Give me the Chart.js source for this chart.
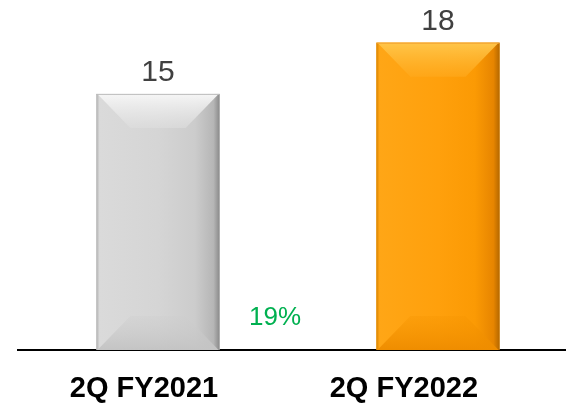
<!DOCTYPE html>
<html>
<head>
<meta charset="utf-8">
<script src="https://cdn.jsdelivr.net/npm/chart.js@4.4.1/dist/chart.umd.min.js"></script>
<style>
  html, body { margin: 0; padding: 0; background: #ffffff; overflow: hidden; }
  #wrap { width: 566px; height: 403px; overflow: hidden; }
</style>
</head>
<body>
<div id="wrap"><canvas id="myChart" width="580" height="403"></canvas></div>
<script>
'use strict';

// ******* DATA *******
let categories = ['2Q FY2021', '2Q FY2022'];
let salesValues = [15, 18];
let growthLabel = '19%';

// ******* STYLES *******
let barColors = ['#d3d3d3', '#ffa010'];
let bevelShades = [
  {
    side: [[0, '#b0b0b0'], [0.025, '#dadada'], [0.5, '#d5d5d5'], [0.8, '#cccccc'], [0.95, '#b6b6b6'], [1, '#8a8a8a']],
    topA: '#f6f6f6', topB: 'rgba(222,222,222,0.6)',
    botA: 'rgba(205,205,205,0.3)', botB: '#c4c4c4',
    edge: '#bdbdbd'
  },
  {
    side: [[0, '#d88400'], [0.025, '#ffa616'], [0.5, '#ffa00c'], [0.8, '#fb9a04'], [0.95, '#e78500'], [1, '#b46800']],
    topA: '#ffc64a', topB: 'rgba(255,170,30,0.6)',
    botA: 'rgba(245,148,0,0.3)', botB: '#ef8d00',
    edge: '#f0a030'
  }
];

let canvasElem = document.getElementById('myChart').getContext('2d');

// ******* BEVEL PLUGIN *******
function poly(ctx, pts, fill) {
  ctx.beginPath();
  ctx.moveTo(pts[0][0], pts[0][1]);
  for (let i = 1; i < pts.length; i++) {
    ctx.lineTo(pts[i][0], pts[i][1]);
  }
  ctx.closePath();
  ctx.fillStyle = fill;
  ctx.fill();
}

let bevelPlugin = {
  id: 'bevel',
  afterDatasetsDraw(chart) {
    let ctx = chart.ctx;
    let meta = chart.getDatasetMeta(0);
    meta.data.forEach(function (bar, i) {
      let s = bevelShades[i];
      let l = bar.x - bar.width / 2;
      let r = bar.x + bar.width / 2;
      let t = bar.y;
      let b = bar.base;
      let d = 34;
      ctx.save();

      // body: soft horizontal shading
      let gSide = ctx.createLinearGradient(l, 0, r, 0);
      s.side.forEach(function (stop) { gSide.addColorStop(stop[0], stop[1]); });
      ctx.fillStyle = gSide;
      ctx.fillRect(l, t, r - l, b - t);

      // top bevel
      let gTop = ctx.createLinearGradient(0, t, 0, t + d);
      gTop.addColorStop(0, s.topA);
      gTop.addColorStop(1, s.topB);
      poly(ctx, [[l + 1, t], [r - 1, t], [r - d, t + d], [l + d, t + d]], gTop);

      // bottom bevel
      let gBot = ctx.createLinearGradient(0, b - d, 0, b);
      gBot.addColorStop(0, s.botA);
      gBot.addColorStop(1, s.botB);
      poly(ctx, [[l + 1, b], [r - 1, b], [r - d, b - d], [l + d, b - d]], gBot);

      // top edge line
      ctx.fillStyle = s.edge;
      ctx.fillRect(l, t, r - l, 1);

      // value label
      ctx.fillStyle = '#404040';
      ctx.font = '30px "Liberation Sans", Arial, sans-serif';
      ctx.textAlign = 'center';
      ctx.textBaseline = 'alphabetic';
      ctx.fillText(String(salesValues[i]), bar.x, t - 13);
      ctx.restore();
    });

    // growth label between bars
    if (meta.data.length > 1) {
      let midX = (meta.data[0].x + meta.data[1].x) / 2 - 23;
      let baseY = meta.data[0].base;
      ctx.save();
      ctx.fillStyle = '#00b050';
      ctx.font = '26px "Liberation Sans", Arial, sans-serif';
      ctx.textAlign = 'center';
      ctx.textBaseline = 'alphabetic';
      ctx.fillText(growthLabel, midX, baseY - 25);
      ctx.restore();
    }
  }
};

// ******* CHART *******
let myChartObj = {
  type: 'bar',
  data: {
    labels: categories,
    datasets: [{
      data: salesValues,
      backgroundColor: barColors,
      borderWidth: 0,
      barPercentage: 0.44,
      categoryPercentage: 1
    }]
  },
  options: {
    responsive: false,
    animation: false,
    devicePixelRatio: 1,
    layout: {
      padding: { left: 18, right: 2, top: 0, bottom: 0 }
    },
    plugins: {
      legend: { display: false },
      tooltip: { enabled: false }
    },
    scales: {
      x: {
        grid: { display: false, drawTicks: false },
        border: { display: true, color: '#000000', width: 2 },
        afterFit: function (scale) {
          scale.height = 53;
        },
        ticks: {
          color: '#000000',
          padding: 22,
          labelOffset: -14,
          font: { family: '"Liberation Sans", Arial, sans-serif', size: 29, weight: 'bold' },
          callback: function (v, i) {
            return categories[i] + (i === 1 ? '     ' : '');
          }
        }
      },
      y: {
        display: false,
        min: 0,
        max: 20.5
      }
    }
  },
  plugins: [bevelPlugin]
};

new Chart(canvasElem, myChartObj);
</script>
</body>
</html>
